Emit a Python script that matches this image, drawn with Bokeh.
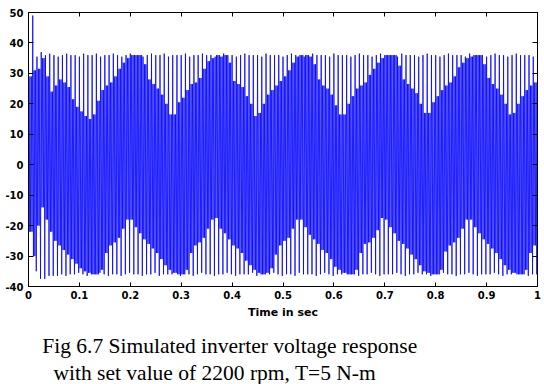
from bokeh.plotting import figure
from bokeh.layouts import column
from bokeh.models import Range1d, LinearAxis, FixedTicker, Label
from bokeh.embed import file_html
from bokeh.resources import INLINE

# ---------------- data ----------------
cycle_period = 1 / 120  # one spike pair per cycle

spike_hi = [
    34, 49, 35.5, 37, 36, 36.5, 36, 35.5, 36, 36.5,
    36, 36, 35.5, 36.5, 36, 36, 36.5, 35.5, 36, 36,
    36.5, 36, 35.5, 36, 36.5, 36, 36, 35.5, 36, 36.5,
    36, 36, 36.5, 35.5, 36, 36, 36, 36.5, 35.5, 36,
    36, 36.5, 36, 36, 35.5, 36, 36.5, 36, 36, 35.5,
    36, 36.5, 36, 36, 36, 35.5, 36.5, 36, 36, 36,
    35.5, 36, 36.5, 36, 36, 35.5, 36, 36.5, 36, 36,
    36, 35.5, 36.5, 36, 36, 36, 35.5, 36, 36.5, 36,
    36, 35.5, 36, 36.5, 36, 36, 36, 35.5, 36.5, 36,
    36, 36, 35.5, 36, 36.5, 36, 36, 35.5, 36, 36.5,
    36, 36, 36, 35.5, 36.5, 36, 36, 36, 35.5, 36,
    36.5, 36, 36, 35.5, 36, 36.5, 36, 36, 36, 35.5,
    36.5,
]

spike_lo = [
    -22, -35, -37.5, -37.5, -36.5, -36.5, -36.5, -36, -36.5, -36,
    -36, -35.5, -36, -36.5, -36, -36, -35.5, -36, -36.5, -36,
    -36, -36.5, -36, -35.5, -36, -36, -36.5, -36, -36, -35.5,
    -36.5, -36, -36, -36, -35.5, -36.5, -36, -36, -36.5, -36,
    -35.5, -36, -36, -36.5, -36, -36, -35.5, -36, -36.5, -36,
    -36, -36, -35.5, -36.5, -36, -36, -36, -35.5, -36, -36.5,
    -36, -36, -36.5, -35.5, -36, -36, -36, -36.5, -36, -35.5,
    -36, -36.5, -36, -36, -35.5, -36, -36, -36.5, -36, -36,
    -35.5, -36, -36.5, -36, -36, -36, -35.5, -36, -36.5, -36,
    -36, -35.5, -36, -36, -36.5, -36, -36, -35.5, -36, -36,
    -36.5, -36, -36, -35.5, -36, -36.5, -36, -36, -36, -35.5,
    -36, -36.5, -36, -36, -35.5, -36, -36, -36.5, -36, -36,
    -36,
]

upper = [
    29, 31, 31.5, 35, 29, 24, 26, 28, 27, 25.5, 21.5, 19, 17.5, 16, 15, 16.5, 21,
    24.5, 26, 27, 29, 31.5, 33.5, 35, 36, 36, 36, 33, 28, 26.5, 25, 23, 20, 16.5,
    16.5, 20.5, 22, 24.5, 26.5, 27, 28.5, 31.5, 34, 35, 36, 35.5, 36, 33.5, 27.5, 26.5, 25.5, 22.5, 20, 16,
    17, 20, 23, 24.5, 26, 27.5, 29, 31, 33.5, 35.5, 36, 36, 35.5, 33, 28, 26, 25, 23, 19.5, 16.5,
    16.5, 20, 22.5, 25, 26, 27, 29.5, 31.5, 33.5, 35, 36, 36, 36, 32.5, 28, 26.5, 25, 23.5, 20, 17,
    17, 20.5, 22.5, 24.5, 26, 27, 29, 32, 33.5, 35, 35.5, 36, 36, 33, 28.5, 26.5, 25, 23, 20, 16.5,
    17, 20, 22.5, 24.5, 26, 27, 29,
]

lower = [
    -22, -30, -20, -14, -18, -22, -25, -26.5, -28, -29.5, -31, -32.5, -34, -35, -35.5, -36, -36,
    -34.5, -29, -26.5, -25.5, -24, -21, -18,
    -18, -20.5, -22.5, -24.5, -26, -27.5, -29, -31, -33, -34.5, -35.5, -36, -36, -34.5, -29, -26.5, -25.5, -24, -21, -18,
    -17.5, -21, -22.5, -24.5, -26.5, -27.5, -29, -31.5, -33, -34.5, -35.5, -36, -35.5, -34, -29.5, -26.5, -25, -24, -21, -18,
    -18, -20.5, -23, -24.5, -26, -28, -29, -31, -33.5, -34.5, -35.5, -36, -36, -34.5, -29, -26, -25.5, -24, -21.5, -17.5,
    -18, -20.5, -22.5, -25, -26, -27.5, -29.5, -31, -33, -35, -35.5, -36, -36, -34.5, -28.5, -26.5, -25.5, -24, -21, -18,
    -18, -20.5, -22.5, -24.5, -26, -27.5, -29, -31, -33, -34.5, -35.5, -36, -36, -34.5, -29, -26.5, -25.5,
]

x_ticks = [0, 0.1, 0.2, 0.3, 0.4, 0.5, 0.6, 0.7, 0.8, 0.9, 1]
x_tick_labels = ["0", "0.1", "0.2", "0.3", "0.4", "0.5", "0.6", "0.7", "0.8", "0.9", "1"]
y_ticks = [-40, -30, -20, -10, 0, 10, 20, 30, 40, 50]
y_tick_labels = ["-40", "-30", "-20", "-10", "0", "10", "20", "30", "40", "50"]
x_label = "Time in sec"
caption = ["Fig 6.7 Simulated inverter voltage response",
           "with set value of 2200 rpm, T=5 N-m"]

# ---------------- build the trace ----------------
ts, vs = [], []
for k, (h, l, u, lo) in enumerate(zip(spike_hi, lower, upper, spike_lo)):
    t0 = k * cycle_period
    for j, v in enumerate([h, l, u, l, u, lo]):
        ts.append(t0 + j * cycle_period / 6)
        vs.append(v)

# ---------------- main figure ----------------
W = 544
H_MAIN = 322
H_CAP = 62
p = figure(width=W, height=H_MAIN, output_backend="svg", toolbar_location=None,
           x_range=Range1d(0, 1), y_range=Range1d(-40, 50),
           min_border_left=28, min_border_right=7, min_border_top=12, min_border_bottom=36)
p.background_fill_color = "white"
p.border_fill_color = "white"
p.outline_line_color = "black"
p.outline_line_width = 1
p.xgrid.visible = False
p.ygrid.visible = False

p.line(ts, vs, line_color="#0000ff", line_width=0.8, line_join="bevel")

tick_font = "DejaVu Sans"

p.xaxis.ticker = FixedTicker(ticks=x_ticks)
p.xaxis.major_label_overrides = dict(zip(x_ticks, x_tick_labels))
p.yaxis.ticker = FixedTicker(ticks=y_ticks)
p.yaxis.major_label_overrides = dict(zip(y_ticks, y_tick_labels))
for ax in (p.xaxis[0], p.yaxis[0]):
    ax.major_label_text_font = tick_font
    ax.major_label_text_font_size = "10px"
    ax.major_label_text_font_style = "bold"
    ax.major_label_text_color = "black"
    ax.axis_line_color = "black"
    ax.major_tick_line_color = "black"
    ax.major_tick_out = 0
    ax.minor_tick_line_color = None
p.xaxis.major_tick_in = 4
p.yaxis.major_tick_in = 5
p.xaxis.major_label_standoff = 4
p.yaxis.major_label_standoff = 5

p.xaxis.axis_label = x_label
p.xaxis.axis_label_text_font = tick_font
p.xaxis.axis_label_text_font_size = "11px"
p.xaxis.axis_label_text_font_style = "bold"
p.xaxis.axis_label_text_color = "black"
p.xaxis.axis_label_standoff = 4

top_ax = LinearAxis(ticker=FixedTicker(ticks=x_ticks), major_label_text_font_size="1px",
                    major_label_text_color=None,
                    major_label_standoff=0, major_tick_in=4, major_tick_out=0,
                    minor_tick_line_color=None, axis_line_color="black")
right_ax = LinearAxis(ticker=FixedTicker(ticks=y_ticks), major_label_text_font_size="1px",
                      major_label_text_color=None,
                      major_label_standoff=0, major_tick_in=5, major_tick_out=0,
                      minor_tick_line_color=None, axis_line_color="black")
p.add_layout(top_ax, "above")
p.add_layout(right_ax, "right")

# ---------------- caption strip (pixel coordinates, y downward) ----------------
c = figure(width=W, height=H_CAP, output_backend="svg", toolbar_location=None,
           x_range=Range1d(0, W), y_range=Range1d(H_CAP, 0),
           min_border_left=0, min_border_right=0, min_border_top=0, min_border_bottom=0,
           x_axis_type=None, y_axis_type=None)
c.outline_line_color = None
c.background_fill_color = "white"
c.border_fill_color = "white"
c.xgrid.visible = False
c.ygrid.visible = False
c.add_layout(Label(x=41.7, y=345.5 - H_MAIN, text=caption[0],
                   text_align="left", text_baseline="alphabetic",
                   text_font="Liberation Serif", text_font_size="21.5px", text_color="black"))
c.add_layout(Label(x=53, y=372 - H_MAIN, text=caption[1],
                   text_align="left", text_baseline="alphabetic",
                   text_font="Liberation Serif", text_font_size="21.5px", text_color="black"))

# do not align the caption strip's frame with the chart's frame
for fig in (p, c):
    if "frame_align" in fig.properties():
        fig.frame_align = False

layout = column(p, c, spacing=0)
open("out.html", "w").write(file_html(layout, INLINE))
